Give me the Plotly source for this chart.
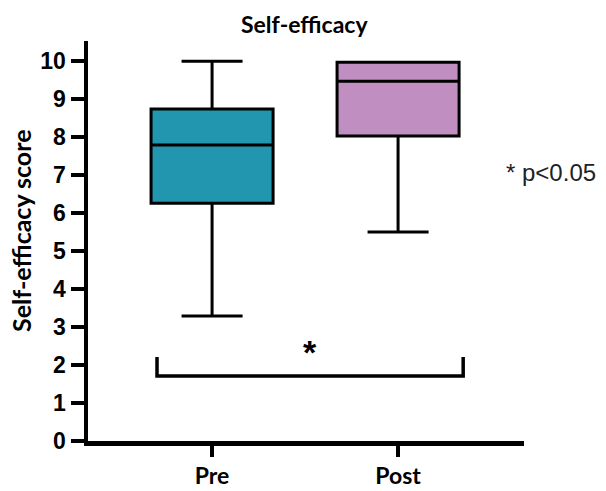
import plotly.graph_objects as go

# Data (box summary statistics)
groups = ["Pre", "Post"]
group_pos = [0, 1]
q1_vals = [6.26, 8.03]
median_vals = [7.79, 9.47]
q3_vals = [8.74, 9.97]
lower_vals = [3.29, 5.5]
upper_vals = [10.0, 9.97]
fill_colors = ["#2196AE", "#C08EC0"]

y_ticks = list(range(0, 11))

# significance bracket
bracket_x = [-0.296, -0.296, 1.35, 1.35]
bracket_y = [2.21, 1.71, 1.71, 2.21]
star_x = 0.527
star_y = 2.34
note_text = "* p<0.05"

W, H = 606, 491
L, R, T, B = 88, 82, 41, 50
PW, PH = W - L - R, H - T - B


def px(xp):
    return (xp - L) / PW


def py(yp):
    return (H - B - yp) / PH


fig = go.Figure()
for i, g in enumerate(groups):
    fig.add_trace(go.Box(
        x=[group_pos[i]],
        q1=[q1_vals[i]], median=[median_vals[i]], q3=[q3_vals[i]],
        lowerfence=[lower_vals[i]], upperfence=[upper_vals[i]],
        fillcolor=fill_colors[i],
        line=dict(color="black", width=3),
        width=0.656,
        whiskerwidth=0.5,
        name=g,
        showlegend=False,
        hoverinfo="skip",
    ))

fig.add_trace(go.Scatter(
    x=bracket_x, y=bracket_y, mode="lines",
    line=dict(color="black", width=3.5),
    showlegend=False, hoverinfo="skip",
))

fig.add_annotation(x=star_x, y=star_y, text="<b>*</b>", showarrow=False,
                   font=dict(family="Liberation Sans", size=34, color="black"),
                   xref="x", yref="y")
fig.add_annotation(x=px(551), y=py(172), xref="paper", yref="paper",
                   text=note_text, showarrow=False,
                   xanchor="center", yanchor="middle",
                   font=dict(family="Liberation Sans", size=24, color="#222222"))
fig.add_annotation(x=px(21), y=py(231), xref="paper", yref="paper",
                   text="<b>Self-efficacy score</b>", showarrow=False,
                   textangle=-90, xanchor="center", yanchor="middle",
                   font=dict(family="Lato", size=25, color="black"))
fig.add_annotation(x=px(304), y=py(24), xref="paper", yref="paper",
                   text="<b>Self-efficacy</b>", showarrow=False,
                   xanchor="center", yanchor="middle",
                   font=dict(family="Lato", size=23, color="black"))

fig.update_layout(
    width=W, height=H,
    margin=dict(l=L, r=R, t=T, b=B, autoexpand=False),
    plot_bgcolor="white", paper_bgcolor="white",
)

fig.update_xaxes(
    range=[-0.667, 1.677], automargin=False,
    tickvals=group_pos, ticktext=["<b>%s</b>" % g for g in groups],
    showline=True, linecolor="black", linewidth=4.5,
    ticks="outside", ticklen=11, tickwidth=3.5, tickcolor="black",
    tickfont=dict(family="Lato", size=23, color="black"),
    showgrid=False, zeroline=False,
)
fig.update_yaxes(
    range=[0, 10.53], automargin=False,
    tickvals=y_ticks, ticktext=["<b>%d</b>" % v for v in y_ticks],
    showline=True, linecolor="black", linewidth=4.5,
    ticks="outside", ticklen=13, tickwidth=3.5, tickcolor="black",
    tickfont=dict(family="Liberation Sans", size=23, color="black"),
    showgrid=False, zeroline=False,
)

fig.write_html("out.html",
               config={"displayModeBar": False, "staticPlot": True},
               post_script="document.body.style.margin='0';document.body.style.overflow='hidden';")
